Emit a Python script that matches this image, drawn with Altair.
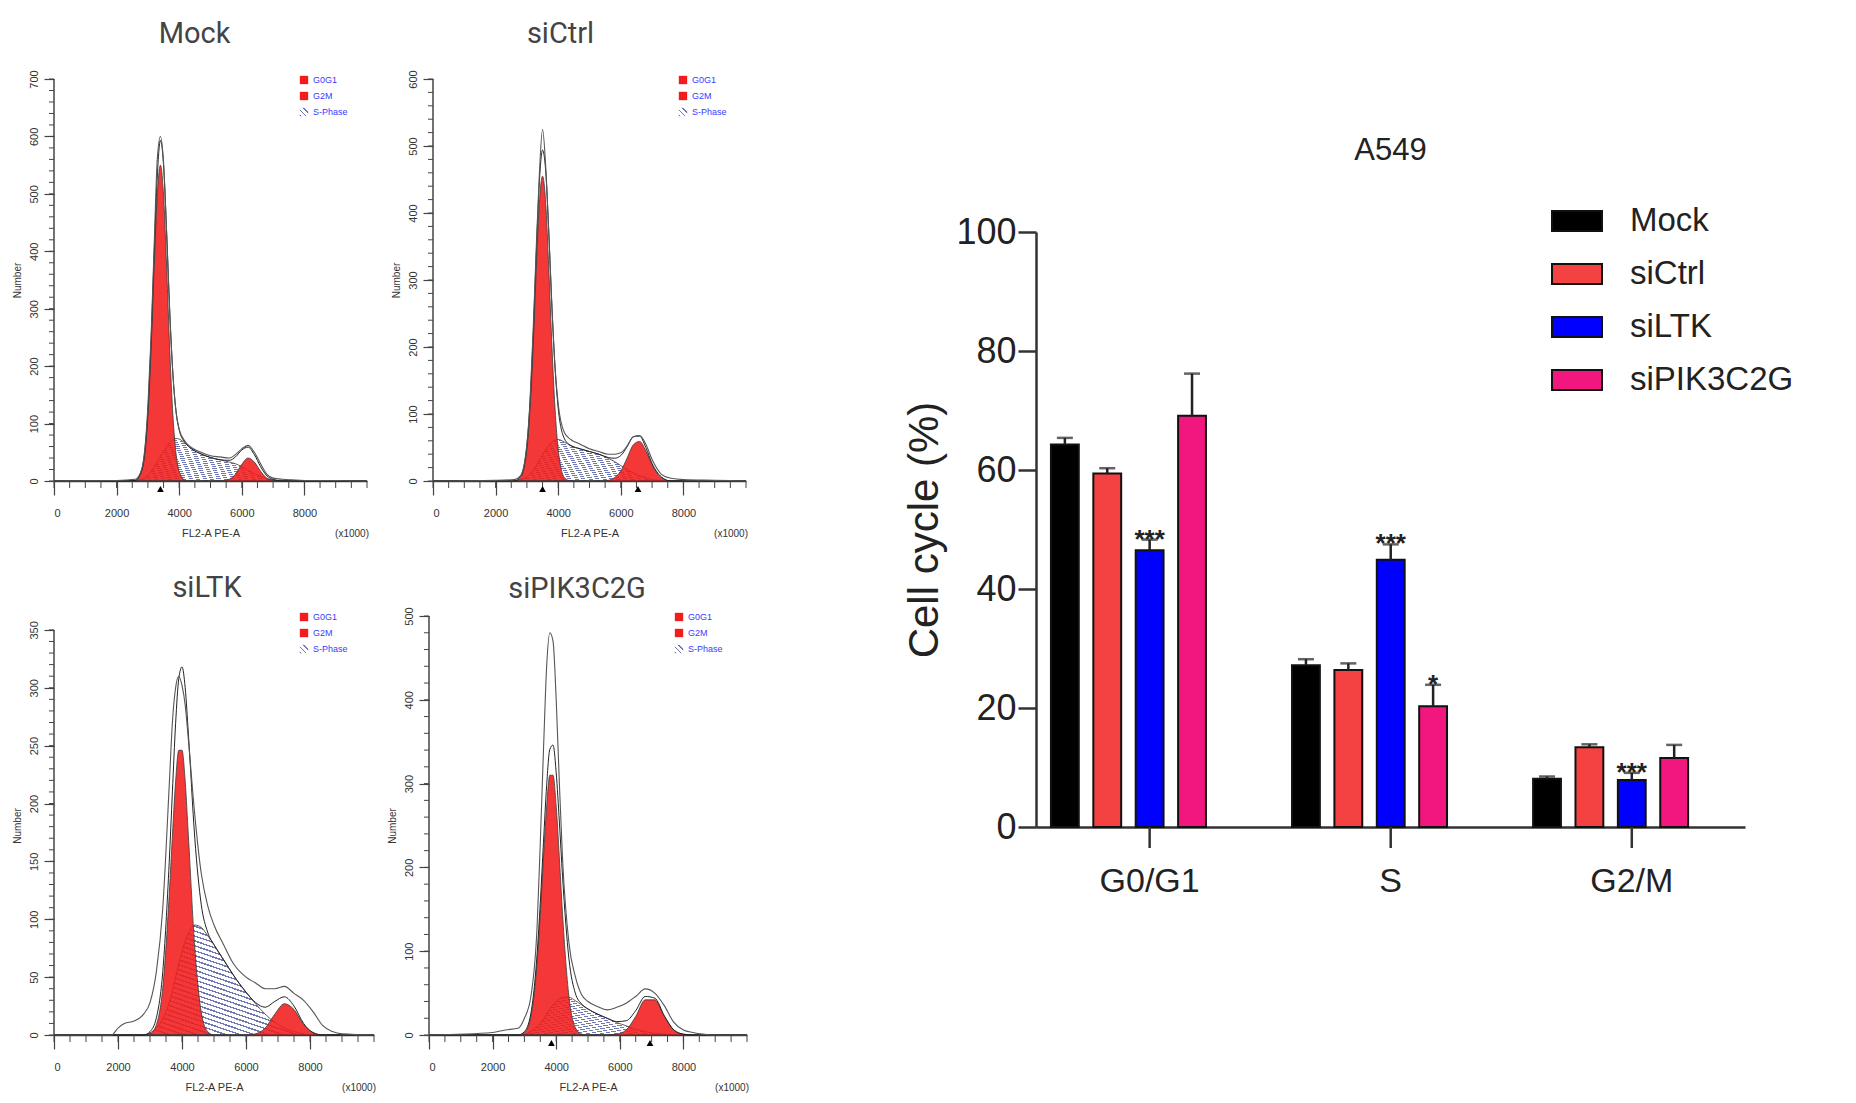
import altair as alt
import pandas as pd

NARROW = "Liberation Sans Narrow, Arial Narrow, Liberation Sans, Arial, sans-serif"
SANS = "Liberation Sans, Arial, sans-serif"
RED = "#f21c1c"
HATCH_LINE = "#6f78b3"

# ---------------- bar chart values (A549) ----------------
phases = ["G0/G1", "S", "G2/M"]
groups = ["Mock", "siCtrl", "siLTK", "siPIK3C2G"]
bar_colors = ["#000000", "#F44242", "#0000FF", "#F2167F"]
mean_g0g1 = [64.3, 59.4, 46.5, 69.1]
err_g0g1 = [1.1, 0.9, 1.8, 7.1]
mean_s = [27.2, 26.4, 44.9, 20.3]
err_s = [1.0, 1.1, 2.6, 3.6]
mean_g2m = [8.1, 13.4, 7.9, 11.6]
err_g2m = [0.4, 0.5, 1.2, 2.2]
stars_g0g1 = ["", "", "***", ""]
stars_s = ["", "", "***", "*"]
stars_g2m = ["", "", "***", ""]
y_ticks = [0, 20, 40, 60, 80, 100]

# ---------------- flow histograms ----------------
x_major_ticks = [0, 2000, 4000, 6000, 8000]
x_minor_ticks = list(range(0, 10001, 500))
legend_items = ["G0G1", "G2M", "S-Phase"]

mock_x = [0, 2000, 2600, 2800, 3000, 3100, 3200, 3300, 3400, 3500, 3600, 3700, 3800, 3900, 4000, 4200,
          4400, 4700, 5000, 5300, 5600, 5800, 6000, 6200, 6400, 6600, 6800, 7000, 7300, 7600, 8000, 9000, 10000]
mock_g1 = [0, 0, 1, 16, 113, 226, 371, 498, 550, 498, 371, 226, 113, 47, 16, 1,
           0, 0, 0, 0, 0, 0, 0, 0, 0, 0, 0, 0, 0, 0, 0, 0, 0]
mock_s = [0, 0, 0, 3, 10, 16, 24, 33, 43, 52, 60, 67, 72, 74, 73, 65,
          56, 47, 41, 37, 33, 30, 25, 19, 13, 8, 4, 2, 0, 0, 0, 0, 0]
mock_g2 = [0, 0, 0, 0, 0, 0, 0, 0, 0, 0, 0, 0, 0, 0, 0, 0,
           0, 0, 0, 0, 3, 12, 29, 40, 33, 17, 5, 1, 0, 0, 0, 0, 0]
mock_total = [0, 1, 3, 20, 130, 250, 410, 560, 600, 555, 430, 290, 185, 120, 90, 68,
              58, 50, 44, 42, 40, 46, 56, 62, 50, 30, 12, 5, 3, 2, 1, 1, 0]
mock_tri = [3400]

ctrl_x = mock_x
ctrl_g1 = [0, 0, 0, 5, 47, 107, 201, 317, 416, 455, 416, 317, 201, 107, 47, 5,
           0, 0, 0, 0, 0, 0, 0, 0, 0, 0, 0, 0, 0, 0, 0, 0, 0]
ctrl_s = [0, 0, 0, 2, 6, 10, 16, 23, 31, 39, 47, 54, 58, 61, 62, 58,
          53, 48, 44, 40, 34, 29, 23, 17, 12, 8, 5, 2, 1, 0, 0, 0, 0]
ctrl_g2 = [0, 0, 0, 0, 0, 0, 0, 0, 0, 0, 0, 0, 0, 0, 0, 0,
           0, 0, 0, 0, 1, 5, 15, 34, 54, 59, 45, 24, 5, 0, 0, 0, 0]
ctrl_total = [0, 1, 2, 8, 55, 120, 225, 350, 460, 525, 470, 370, 260, 170, 115, 72,
              62, 55, 48, 44, 40, 40, 42, 52, 66, 68, 55, 32, 10, 4, 2, 1, 0]
ctrl_tri = [3500, 6550]

ltk_x = [0, 1800, 2000, 2200, 2500, 2800, 3000, 3200, 3400, 3600, 3700, 3800, 3900, 4000, 4100, 4200, 4400,
         4600, 4800, 5000, 5300, 5600, 6000, 6300, 6600, 6900, 7200, 7500, 7800, 8100, 8400, 8700, 9000, 10000]
ltk_g1 = [0, 0, 0, 0, 0, 0, 1, 9, 41, 121, 172, 219, 246, 246, 219, 172, 75,
          20, 3, 0, 0, 0, 0, 0, 0, 0, 0, 0, 0, 0, 0, 0, 0, 0]
ltk_s = [0, 0, 0, 0, 0, 0, 2, 6, 14, 28, 38, 50, 62, 72, 81, 88, 95,
         93, 86, 78, 65, 52, 37, 27, 18, 11, 6, 3, 1, 0, 0, 0, 0, 0]
ltk_g2 = [0, 0, 0, 0, 0, 0, 0, 0, 0, 0, 0, 0, 0, 0, 0, 0, 0,
          0, 0, 0, 0, 0, 0, 1, 6, 18, 27, 22, 9, 2, 0, 0, 0, 0]
ltk_total = [0, 0, 6, 10, 12, 18, 28, 55, 110, 215, 270, 300, 310, 302, 285, 255, 190,
             140, 112, 95, 78, 62, 50, 45, 40, 40, 42, 36, 30, 20, 8, 3, 1, 0]
ltk_tri = []

pik_x = [0, 2000, 2400, 2800, 3000, 3200, 3400, 3500, 3600, 3700, 3800, 3900, 4000, 4100, 4200, 4400,
         4600, 4800, 5000, 5300, 5600, 5900, 6200, 6500, 6800, 7100, 7400, 7700, 8000, 8300, 8600, 9000, 10000]
pik_g1 = [0, 0, 0, 0, 3, 21, 87, 144, 211, 273, 310, 310, 273, 211, 144, 46,
          9, 1, 0, 0, 0, 0, 0, 0, 0, 0, 0, 0, 0, 0, 0, 0, 0]
pik_s = [0, 0, 0, 0, 1, 4, 10, 14, 19, 25, 31, 36, 40, 43, 45, 45,
         41, 36, 31, 25, 20, 15, 11, 7, 4, 2, 1, 0, 0, 0, 0, 0, 0]
pik_g2 = [0, 0, 0, 0, 0, 0, 0, 0, 0, 0, 0, 0, 0, 0, 0, 0,
          0, 0, 0, 0, 0, 1, 6, 22, 42, 42, 22, 6, 1, 0, 0, 0, 0]
pik_total = [0, 3, 6, 8, 20, 45, 130, 230, 340, 440, 480, 470, 400, 300, 210, 110,
             70, 48, 40, 34, 30, 33, 38, 46, 55, 50, 35, 15, 6, 3, 1, 0, 0]
pik_tri = [3850, 6950]


def hatch_fill(n):
    stops = []
    for i in range(n):
        a = i / n
        b = (i + 0.3) / n
        c = (i + 1) / n
        stops += [alt.GradientStop(color=HATCH_LINE, offset=a),
                  alt.GradientStop(color=HATCH_LINE, offset=b),
                  alt.GradientStop(color="#ffffff", offset=b),
                  alt.GradientStop(color="#ffffff", offset=c)]
    return alt.LinearGradient(gradient="linear", stops=stops, x1=0, y1=1, x2=1, y2=0)


def flow_panel(name, xs, g1, s, g2, total, tris, ymax, ydom, ystep, yminor, W, H, title_dx, title_off):
    df = pd.DataFrame({"x": xs, "g1": g1, "s": s, "g2": g2, "total": total})
    xsc = alt.Scale(domain=[0, 10000], nice=False)
    ysc = alt.Scale(domain=[0, ydom], nice=False)
    xax = alt.Axis(values=x_major_ticks, format="d", title="FL2-A PE-A", grid=False,
                   domainColor="#444", domainWidth=1.5, tickColor="#444", tickWidth=1.2, tickSize=14,
                   labelFont=NARROW, labelFontSize=11, labelColor="#333", labelPadding=12,
                   titleFont=NARROW, titleFontSize=11, titleFontWeight="normal", titleColor="#333",
                   titlePadding=9)
    yax = alt.Axis(values=list(range(0, ymax + 1, ystep)), format="d", title="Number", grid=False,
                   domain=False, tickColor="#444", tickWidth=1.2, tickSize=10,
                   labelAngle=-90, labelAlign="center", labelBaseline="bottom",
                   labelFont=NARROW, labelFontSize=11, labelColor="#333", labelPadding=5,
                   titleFont=NARROW, titleFontSize=10, titleFontWeight="normal", titleColor="#333",
                   titlePadding=6)
    X = alt.X("x:Q", scale=xsc, axis=xax)
    base = alt.Chart(df)
    layers = [
        base.mark_area(fill=hatch_fill(45), interpolate="monotone", stroke="#3a3a3a", strokeWidth=0.8)
            .encode(x=X, y=alt.Y("s:Q", scale=ysc, axis=yax)),
        base.mark_area(fill=RED, fillOpacity=0.88, interpolate="monotone", stroke="#3a3a3a", strokeWidth=0.8)
            .encode(x=X, y=alt.Y("g1:Q", scale=ysc, axis=yax)),
        base.mark_area(fill=RED, fillOpacity=0.88, interpolate="monotone", stroke="#3a3a3a", strokeWidth=0.8)
            .encode(x=X, y=alt.Y("g2:Q", scale=ysc, axis=yax)),
        base.transform_calculate(fit="datum.g1 + datum.s + datum.g2")
            .mark_line(color="#222", strokeWidth=1, interpolate="monotone")
            .encode(x=X, y=alt.Y("fit:Q", scale=ysc, axis=yax)),
        base.mark_line(color="#555", strokeWidth=1.1, interpolate="monotone")
            .encode(x=X, y=alt.Y("total:Q", scale=ysc, axis=yax)),
        alt.Chart(pd.DataFrame({"v": x_minor_ticks})).mark_rule(color="#444", strokeWidth=1)
            .encode(x=alt.X("v:Q", scale=xsc, axis=xax), y=alt.value(H), y2=alt.value(H + 7)),
        alt.Chart(pd.DataFrame({"v": list(range(0, ymax + 1, yminor))})).mark_rule(color="#444", strokeWidth=1)
            .encode(y=alt.Y("v:Q", scale=ysc, axis=yax), x=alt.value(0), x2=alt.value(-5)),
        alt.Chart(pd.DataFrame({"lo": [0], "hi": [ymax]})).mark_rule(color="#444", strokeWidth=1.5)
            .encode(y=alt.Y("lo:Q", scale=ysc, axis=yax), y2="hi:Q", x=alt.value(0)),
    ]
    if tris:
        layers.append(
            alt.Chart(pd.DataFrame({"t": tris})).mark_point(shape="triangle-up", filled=True, color="black",
                                                            size=45, opacity=1)
            .encode(x=alt.X("t:Q", scale=xsc, axis=xax), y=alt.value(H + 8)))
    one = pd.DataFrame({"a": [0]})
    lx = 250
    for i, lab in enumerate(legend_items):
        ly = 1 + i * 16
        fill = hatch_fill(3) if lab == "S-Phase" else RED
        layers.append(alt.Chart(one).mark_square(size=70, fill=fill, opacity=1, strokeWidth=0)
                      .encode(x=alt.value(lx), y=alt.value(ly)))
        layers.append(alt.Chart(one).mark_text(text=lab, align="left", baseline="middle", font=NARROW,
                                               fontSize=9, color="#3a3aff")
                      .encode(x=alt.value(lx + 9), y=alt.value(ly)))
    layers.append(alt.Chart(one).mark_text(text="(x1000)", align="right", baseline="middle", font=NARROW,
                                           fontSize=10, color="#333")
                  .encode(x=alt.value(W + 2), y=alt.value(H + 53)))
    return alt.layer(*layers).properties(
        width=W, height=H,
        title=alt.TitleParams(name, font="Roboto", fontSize=29, fontWeight="normal", color="#444",
                              anchor="middle", frame="group", baseline="alphabetic",
                              offset=title_off, dx=title_dx))


mock = flow_panel("Mock", mock_x, mock_g1, mock_s, mock_g2, mock_total, mock_tri,
                  700, 700, 100, 20, 313, 402, -16, -2)
ctrl = flow_panel("siCtrl", ctrl_x, ctrl_g1, ctrl_s, ctrl_g2, ctrl_total, ctrl_tri,
                  600, 600, 100, 20, 313, 402, -29, -2)
ltk = flow_panel("siLTK", ltk_x, ltk_g1, ltk_s, ltk_g2, ltk_total, ltk_tri,
                 350, 362, 50, 10, 320, 419, -7, -13)
pik = flow_panel("siPIK3C2G", pik_x, pik_g1, pik_s, pik_g2, pik_total, pik_tri,
                 500, 500, 100, 20, 318, 419, -11, -20)

# ---------------- bar chart ----------------
rows = []
for ph, means, errs, sts in zip(phases, [mean_g0g1, mean_s, mean_g2m], [err_g0g1, err_s, err_g2m],
                                [stars_g0g1, stars_s, stars_g2m]):
    for g, m, e, st in zip(groups, means, errs, sts):
        rows.append({"phase": ph, "group": g, "mean": m, "top": m + e, "star": st})
bdf = pd.DataFrame(rows)

BW, BH = 709, 595
xs = alt.Scale(domain=phases, paddingInner=0.357, paddingOuter=0.149, align=0.208)
xos = alt.Scale(domain=groups, paddingInner=0.343, paddingOuter=0)
ysc_b = alt.Scale(domain=[0, 100], nice=False)
BX = alt.X("phase:N", scale=xs, sort=phases,
           axis=alt.Axis(labels=False, ticks=False, title=None, domainColor="#333", domainWidth=2.5))
BXO = alt.XOffset("group:N", scale=xos, sort=groups)
yax_b = alt.Axis(values=y_ticks, title="Cell cycle (%)", grid=False, domainColor="#333", domainWidth=2.5,
                 tickColor="#333", tickWidth=2.5, tickSize=18, labelFont=NARROW, labelFontSize=36,
                 labelColor="#222", labelPadding=2, titleFont=SANS, titleFontSize=42,
                 titleFontWeight="normal", titleColor="#222", titlePadding=9)

bars = alt.Chart(bdf).mark_bar(stroke="#111", strokeWidth=2).encode(
    x=BX, xOffset=BXO, y=alt.Y("mean:Q", scale=ysc_b, axis=yax_b),
    fill=alt.Fill("group:N", sort=groups, scale=alt.Scale(domain=groups, range=bar_colors),
                  legend=alt.Legend(title=None, orient="none", legendX=1497, legendY=116,
                                    symbolType="M-1,-0.4H1V0.4H-1Z", symbolSize=2500,
                                    symbolStrokeColor="#111", symbolStrokeWidth=2,
                                    labelFont=NARROW, labelFontSize=33, labelColor="#222",
                                    labelOffset=27, rowPadding=10, labelLimit=400)))
err_rule = alt.Chart(bdf).mark_rule(color="#222", strokeWidth=2.5).encode(
    x=BX, xOffset=BXO, y=alt.Y("mean:Q", scale=ysc_b, axis=yax_b), y2="top:Q")
caps = alt.Chart(bdf).mark_tick(color="#222", thickness=2.5, size=16).encode(
    x=BX, xOffset=BXO, y=alt.Y("top:Q", scale=ysc_b, axis=yax_b))
star_txt = alt.Chart(bdf).transform_filter("datum.star != ''").mark_text(
    font=SANS, fontSize=26, fontWeight="bold", color="#222", baseline="alphabetic", dy=8).encode(
    x=BX, xOffset=BXO, y=alt.Y("top:Q", scale=ysc_b, axis=yax_b), text="star:N")
ldf = pd.DataFrame({"phase": phases, "group": [groups[2]] * len(phases)})
xticks = alt.Chart(ldf).mark_rule(color="#333", strokeWidth=2.5).encode(
    x=BX, xOffset=BXO, y=alt.value(BH), y2=alt.value(BH + 21))
xlabels = alt.Chart(ldf).mark_text(font=NARROW, fontSize=34, color="#222", baseline="middle").encode(
    x=BX, xOffset=BXO, y=alt.value(BH + 55), text="phase:N")

bar_chart = alt.layer(bars, err_rule, caps, star_txt, xticks, xlabels).properties(
    width=BW, height=BH,
    title=alt.TitleParams("A549", font=NARROW, fontSize=31, fontWeight="normal", color="#222",
                          anchor="middle", frame="group", baseline="alphabetic", offset=23))

spacer = alt.Chart(pd.DataFrame({"a": [0]})).mark_point(opacity=0).encode(
    x=alt.X("a:Q", axis=None), y=alt.Y("a:Q", axis=None)).properties(width=BW, height=1)

row1 = alt.hconcat(mock, ctrl, spacing=21)
row2 = alt.hconcat(ltk, pik, spacing=10)
left = alt.vconcat(row1, row2, spacing=34)
right = alt.vconcat(spacer, bar_chart, spacing=52)

chart = alt.hconcat(left, right, spacing=153).properties(
    padding={"left": 3, "top": 11, "right": 5, "bottom": 5}, background="white"
).configure_view(stroke=None)

chart.save("out.html", embed_options={"renderer": "svg", "actions": False})
